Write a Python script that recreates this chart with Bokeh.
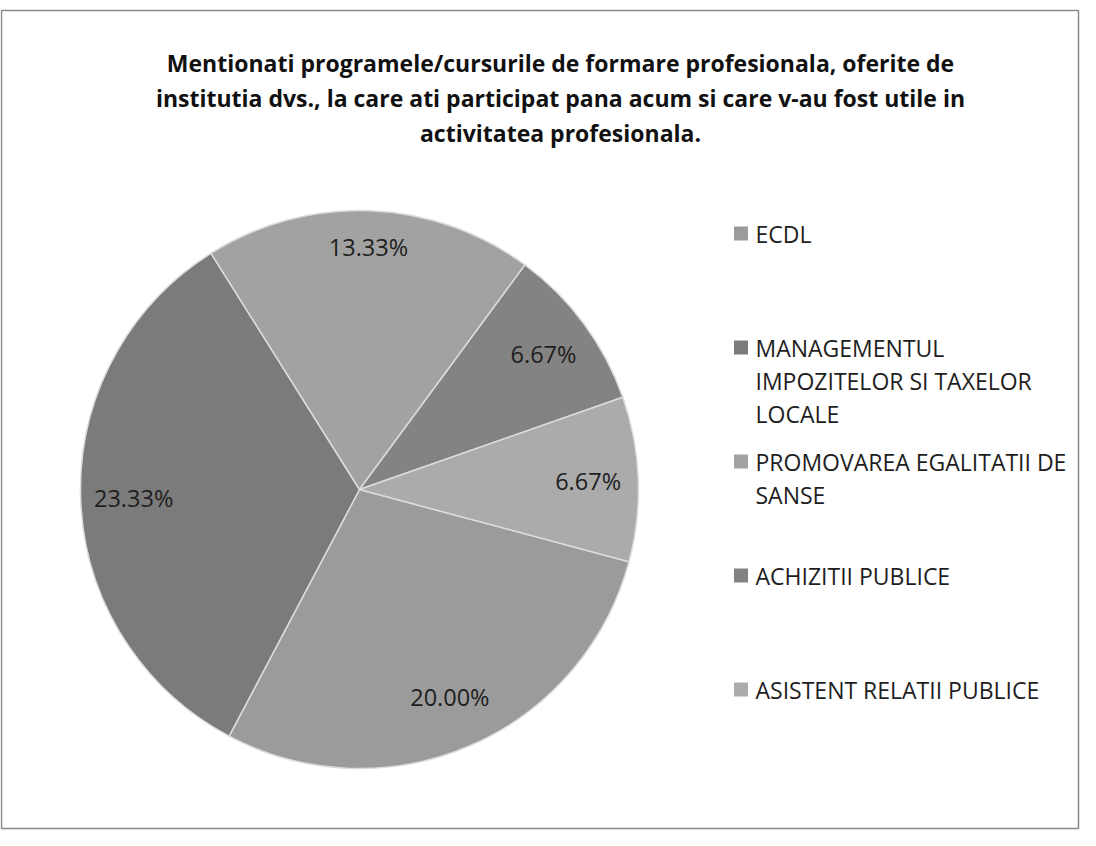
import math
from bokeh.plotting import figure
from bokeh.models import Range1d
from bokeh.core.properties import value
from bokeh.embed import file_html
from bokeh.resources import INLINE

# ---- data ----
title_lines = [
    "Mentionati programele/cursurile de formare profesionala, oferite de",
    "institutia dvs., la care ati participat pana acum si care v-au fost utile in",
    "activitatea profesionala.",
]
categories = [
    "ECDL",
    "MANAGEMENTUL IMPOZITELOR SI TAXELOR LOCALE",
    "PROMOVAREA EGALITATII DE SANSE",
    "ACHIZITII PUBLICE",
    "ASISTENT RELATII PUBLICE",
]
legend_lines = [
    ["ECDL"],
    ["MANAGEMENTUL", "IMPOZITELOR SI TAXELOR", "LOCALE"],
    ["PROMOVAREA EGALITATII DE", "SANSE"],
    ["ACHIZITII PUBLICE"],
    ["ASISTENT RELATII PUBLICE"],
]
values = [20.00, 23.33, 13.33, 6.67, 6.67]
pct_labels = ["20.00%", "23.33%", "13.33%", "6.67%", "6.67%"]

# ---- style / layout ----
colors = ["#9b9b9b", "#7b7b7b", "#a2a2a2", "#838383", "#ababab"]
label_r = [0.81, 0.81, 0.87, 0.82, 0.82]
W, H = 1080, 830
PAGE_H = 846  # data y = PAGE_H - page_y
cx, cy_page, R = 367, 497, 279
cy = PAGE_H - cy_page
first_angle = 105.0  # degrees clockwise from 12 o'clock
FONT = value("Open Sans")

p = figure(width=W, height=H, x_range=Range1d(8, 8 + W), y_range=Range1d(PAGE_H - 8 - H, PAGE_H - 8),
           output_backend="svg", toolbar_location=None,
           x_axis_location=None, y_axis_location=None, min_border=0)
p.outline_line_color = None
p.grid.visible = False
p.background_fill_color = "white"
p.border_fill_color = "white"

# frame
p.quad(left=9, right=1086, top=PAGE_H - 18, bottom=PAGE_H - 836,
       fill_color=None, line_color="#8a8a8a", line_width=1.5)

# pie
total = sum(values)
theta = first_angle
starts, ends, mids = [], [], []
for v in values:
    span = 360.0 * v / total
    t1, t2 = theta, theta + span
    starts.append(math.radians(90 - t2))
    ends.append(math.radians(90 - t1))
    mids.append(t1 + span / 2)
    theta = t2

p.wedge(x=[cx] * len(values), y=[cy] * len(values), radius=R,
        start_angle=starts, end_angle=ends,
        fill_color=colors, line_color="#dcdcdc", line_width=1.5)

# percentage labels
lx = [cx + R * f * math.sin(math.radians(m)) for f, m in zip(label_r, mids)]
ly = [cy + R * f * math.cos(math.radians(m)) for f, m in zip(label_r, mids)]
p.text(x=lx, y=ly, text=pct_labels, text_align="center", text_baseline="middle",
       text_font=FONT, text_font_size="23.5px", text_color="#1e1e1e")

# title
title_y = [70, 105, 140]
p.text(x=[568] * 3, y=[PAGE_H - y for y in title_y], text=title_lines,
       text_align="center", text_baseline="middle", text_font=FONT,
       text_font_size="23px", text_font_style="bold", text_color="#111111")

# legend
leg_x_sq, leg_x_txt = 748.5, 763
leg_y0, leg_step, line_step = 241, 114, 33
sq_x, sq_y, tx, ty, tt = [], [], [], [], []
for i, lines in enumerate(legend_lines):
    y0 = leg_y0 + i * leg_step
    sq_x.append(leg_x_sq)
    sq_y.append(PAGE_H - y0)
    for j, ln in enumerate(lines):
        tx.append(leg_x_txt)
        ty.append(PAGE_H - (y0 + j * line_step))
        tt.append(ln)
p.rect(x=sq_x, y=sq_y, width=14, height=14, fill_color=colors, line_color=None)
p.text(x=tx, y=ty, text=tt, text_align="left", text_baseline="middle",
       text_font=FONT, text_font_size="23px", text_color="#1e1e1e")

open("out.html", "w").write(file_html(p, INLINE))
